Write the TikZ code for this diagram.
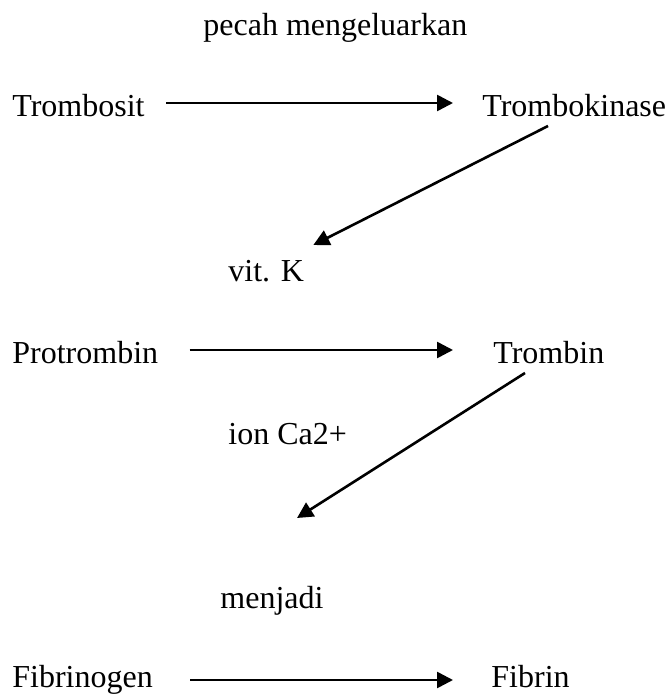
\documentclass[tikz,border=0pt]{standalone}
\usepackage{fontspec}
\setmainfont{Liberation Serif}
\usetikzlibrary{arrows.meta}
\begin{document}
\begin{tikzpicture}[x=0.5pt,y=-0.5pt,
  lbl/.style={inner sep=0pt,anchor=base west,font=\fontsize{16pt}{19pt}\selectfont},
  conn/.style={line width=1.3pt,-{Triangle[length=8pt,width=8pt]}}]
\path[use as bounding box] (0,0) rectangle (667,695);
\node[lbl] (pm) at (203,36) {pecah mengeluarkan};
\node[lbl] (tr) at (12,117) {Trombosit};
\node[lbl] (tk) at (482,117) {Trombokinase};
\node[lbl] (vk) at (228,281) {vit. K};
\node[lbl] (pt) at (12,363) {Protrombin};
\node[lbl] (tn) at (493,363) {Trombin};
\node[lbl] (ca) at (228,444) {ion Ca2+};
\node[lbl] (mj) at (220,608) {menjadi};
\node[lbl] (fg) at (12,687) {Fibrinogen};
\node[lbl] (fb) at (491,687) {Fibrin};
\coordinate (d2) at (297,518);
\draw[conn] ([shift={(21,-14)}]tr.base east) -- ([shift={(-29,-14)}]tk.base west);
\draw[conn] ([shift={(66,9)}]tk.base west) -- ([shift={(9,-36)}]vk.base east);
\draw[conn] ([shift={(31,-13)}]pt.base east) -- ([shift={(-40,-13)}]tn.base west);
\draw[conn] ([shift={(32,10)}]tn.base west) -- (d2);
\draw[conn] ([shift={(37,-7)}]fg.base east) -- ([shift={(-38,-7)}]fb.base west);
\end{tikzpicture}
\end{document}
